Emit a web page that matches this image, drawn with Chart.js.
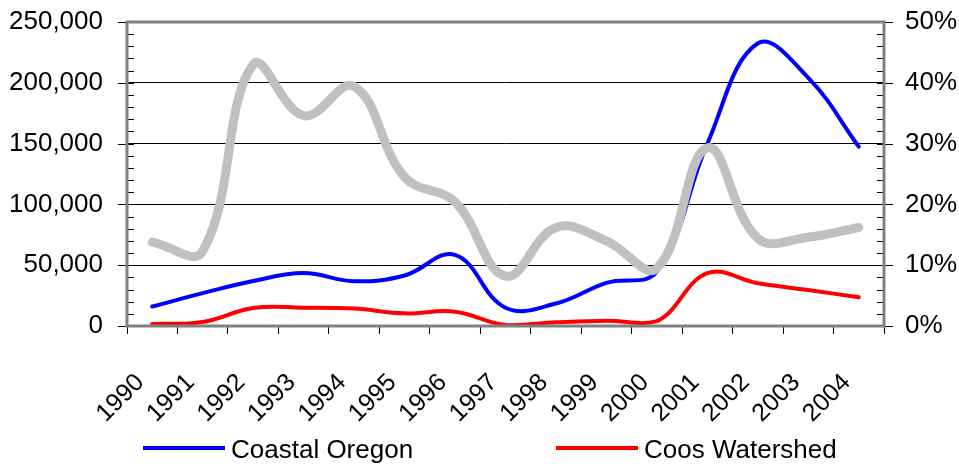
<!DOCTYPE html>
<html>
<head>
<meta charset="utf-8">
<script src="https://cdn.jsdelivr.net/npm/chart.js@4.4.0/dist/chart.umd.min.js"></script>
<style>
  html, body { margin: 0; padding: 0; background: #fff; }
</style>
</head>
<body>
<canvas id="chart" width="959" height="464"></canvas>
<script>
var years = ['1990', '1991', '1992', '1993', '1994', '1995', '1996', '1997',
             '1998', '1999', '2000', '2001', '2002', '2003', '2004'];
var coastalOregon = [16000, 27000, 37000, 43500, 36800, 41500, 58500, 15000,
                     18500, 35500, 45000, 150000, 232500, 204000, 147500];
var coosWatershed = [1600, 3300, 14800, 15100, 14300, 10400, 11800, 800,
                     3000, 4400, 4000, 43400, 35100, 29600, 23600];
var coosShare = [13.8, 12.3, 43.0, 34.6, 39.4, 24.5, 20.4, 8.2,
                 16.2, 14.0, 9.5, 29.3, 14.4, 14.6, 16.2];

var leftTicks = [0, 50000, 100000, 150000, 200000, 250000];
var rightTicks = [0, 10, 20, 30, 40, 50];

var FONT = '"Liberation Sans", Arial, sans-serif';

// frame, inward tick marks and the legend
var decorations = {
    id: 'decorations',
    afterDraw: function (chart) {
        var ctx = chart.ctx;
        var area = chart.chartArea;
        var yl = chart.scales.y;
        var yr = chart.scales.y1;
        ctx.save();

        // y tick marks (minor every 10,000 / 2%)
        ctx.strokeStyle = '#000';
        ctx.lineWidth = 1;
        for (var v = 0; v <= 250000; v += 10000) {
            var py = Math.round(yl.getPixelForValue(v)) + 0.5;
            var major = leftTicks.indexOf(v) >= 0;
            ctx.beginPath();
            ctx.moveTo(area.left - (major ? 9 : 0), py);
            ctx.lineTo(area.left + 7, py);
            ctx.stroke();
        }
        for (var p = 0; p <= 50; p += 2) {
            var py2 = Math.round(yr.getPixelForValue(p)) + 0.5;
            var major2 = rightTicks.indexOf(p) >= 0;
            ctx.beginPath();
            ctx.moveTo(area.right - 7, py2);
            ctx.lineTo(area.right + (major2 ? 9 : 0), py2);
            ctx.stroke();
        }

        // plot frame
        ctx.strokeStyle = '#808080';
        ctx.lineWidth = 3;
        ctx.strokeRect(area.left, area.top, area.right - area.left, area.bottom - area.top);

        // legend
        var items = [
            { ds: chart.data.datasets[1], x: 143 },
            { ds: chart.data.datasets[2], x: 556 }
        ];
        ctx.font = '26px ' + FONT;
        ctx.fillStyle = '#000';
        ctx.textBaseline = 'alphabetic';
        ctx.textAlign = 'left';
        items.forEach(function (it) {
            ctx.strokeStyle = it.ds.borderColor;
            ctx.lineWidth = 4;
            ctx.beginPath();
            ctx.moveTo(it.x, 448);
            ctx.lineTo(it.x + 82, 448);
            ctx.stroke();
            ctx.fillText(it.ds.label, it.x + 88, 458);
        });
        ctx.restore();
    }
};

new Chart(document.getElementById('chart'), {
    type: 'line',
    data: {
        labels: years,
        datasets: [{
            label: 'Coos % of Coastal Oregon',
            data: coosShare,
            yAxisID: 'y1',
            borderColor: '#C0C0C0',
            borderWidth: 9,
            borderCapStyle: 'round',
            order: 0
        }, {
            label: 'Coastal Oregon',
            data: coastalOregon,
            yAxisID: 'y',
            borderColor: '#0000FF',
            borderWidth: 4,
            borderCapStyle: 'round',
            order: 1
        }, {
            label: 'Coos Watershed',
            data: coosWatershed,
            yAxisID: 'y',
            borderColor: '#FF0000',
            borderWidth: 4,
            borderCapStyle: 'round',
            order: 1
        }]
    },
    options: {
        responsive: false,
        animation: false,
        devicePixelRatio: 1,
        layout: { padding: { top: 22, left: 0, right: 0, bottom: 0 } },
        elements: {
            point: { radius: 0 },
            line: { tension: 0.4, fill: false }
        },
        plugins: {
            legend: { display: false },
            tooltip: { enabled: false }
        },
        scales: {
            x: {
                offset: true,
                grid: {
                    offset: true,
                    drawOnChartArea: false,
                    drawTicks: true,
                    tickLength: 8,
                    color: '#000'
                },
                border: { display: false },
                ticks: {
                    autoSkip: false,
                    maxRotation: 45,
                    minRotation: 45,
                    padding: 34,
                    labelOffset: -12,
                    color: '#000',
                    font: { family: FONT, size: 25 }
                },
                afterFit: function (s) {
                    s.height = 138;
                    s.paddingLeft = 0;
                    s.paddingRight = 0;
                }
            },
            y: {
                position: 'left',
                min: 0,
                max: 250000,
                afterBuildTicks: function (s) {
                    s.ticks = leftTicks.map(function (v) { return { value: v }; });
                },
                grid: {
                    drawTicks: false,
                    color: '#000',
                    lineWidth: 1
                },
                border: { display: false },
                ticks: {
                    padding: 24,
                    color: '#000',
                    font: { family: FONT, size: 26 },
                    callback: function (v) { return v.toLocaleString('en-US'); }
                },
                afterFit: function (s) {
                    s.width = 127;
                    s.paddingTop = 0;
                    s.paddingBottom = 0;
                }
            },
            y1: {
                position: 'right',
                min: 0,
                max: 50,
                afterBuildTicks: function (s) {
                    s.ticks = rightTicks.map(function (v) { return { value: v }; });
                },
                grid: { display: false, drawTicks: false },
                border: { display: false },
                ticks: {
                    padding: 21,
                    color: '#000',
                    font: { family: FONT, size: 26 },
                    callback: function (v) { return v + '%'; }
                },
                afterFit: function (s) {
                    s.width = 75;
                    s.paddingTop = 0;
                    s.paddingBottom = 0;
                }
            }
        }
    },
    plugins: [decorations]
});
</script>
</body>
</html>
